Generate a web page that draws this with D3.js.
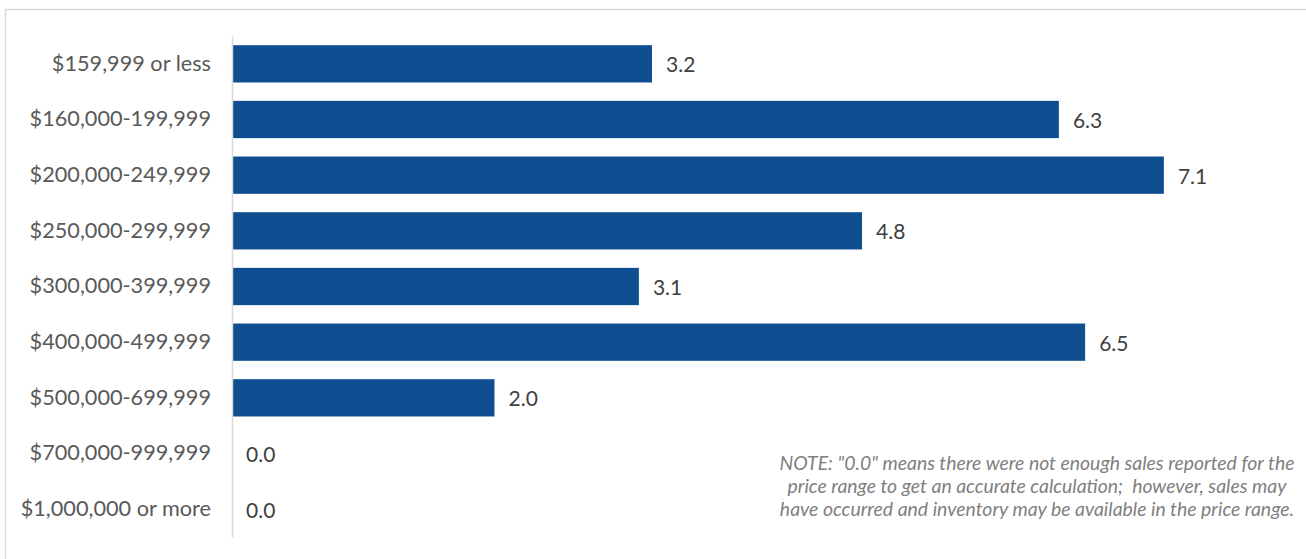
<!DOCTYPE html>
<html>
<head>
<meta charset="utf-8">
<script src="https://cdn.jsdelivr.net/npm/d3@7"></script>
<style>
  body { margin: 0; background: #fff; }
  svg { display: block; font-family: Lato, "Open Sans", sans-serif; }
</style>
</head>
<body>
<svg id="chart" width="1306" height="559"></svg>
<script>
'use strict';

var categories = ['$159,999 or less', '$160,000-199,999', '$200,000-249,999', '$250,000-299,999',
  '$300,000-399,999', '$400,000-499,999', '$500,000-699,999', '$700,000-999,999', '$1,000,000 or more'];
var months = [3.2, 6.3, 7.1, 4.8, 3.1, 6.5, 2.0, 0.0, 0.0];
var noteLines = ['NOTE: "0.0" means there were not enough sales reported for the',
  'price range to get an accurate calculation;  however, sales may',
  'have occurred and inventory may be available in the price range.'];

var svg = d3.select('#chart');

// outer frame
svg.append('rect').attr('x', 5.5).attr('y', 9.5).attr('width', 1320).attr('height', 580)
  .attr('fill', 'none').attr('stroke', '#d9d9d9').attr('stroke-width', 1.5);

var x = d3.scaleLinear().domain([0, 8]).range([232, 1282]);
var y = d3.scaleBand().domain(categories).range([36, 537]).paddingInner(0.33).paddingOuter(0.165);

svg.selectAll('rect.bar').data(months).enter().append('rect')
  .attr('class', 'bar')
  .attr('x', x(0))
  .attr('y', function (d, i) { return y(categories[i]); })
  .attr('width', function (d) { return x(d) - x(0); })
  .attr('height', y.bandwidth())
  .attr('fill', '#104e92');

svg.selectAll('text.val').data(months).enter().append('text')
  .attr('class', 'val')
  .attr('x', function (d) { return x(d) + 14; })
  .attr('y', function (d, i) { return y(categories[i]) + y.bandwidth() / 2 + 1; })
  .attr('dy', '0.35em')
  .attr('font-size', 21)
  .attr('fill', '#404040')
  .text(function (d) { return d3.format('.1f')(d); });

var yAxis = svg.append('g').attr('transform', 'translate(232,0)')
  .call(d3.axisLeft(y).tickSize(0).tickPadding(21));
yAxis.select('.domain').attr('stroke', '#d9d9d9').attr('stroke-width', 1.5);
yAxis.selectAll('text').attr('font-size', 21.7).attr('fill', '#595959')
  .attr('font-family', 'Lato, "Open Sans", sans-serif');

svg.append('g').selectAll('text').data(noteLines).enter().append('text')
  .attr('x', 1037)
  .attr('y', function (d, i) { return 470 + i * 23; })
  .attr('text-anchor', 'middle')
  .attr('font-size', 19.4)
  .attr('font-style', 'italic')
  .attr('fill', '#7f7f7f')
  .style('white-space', 'pre')
  .text(function (d) { return d; });
</script>
</body>
</html>
